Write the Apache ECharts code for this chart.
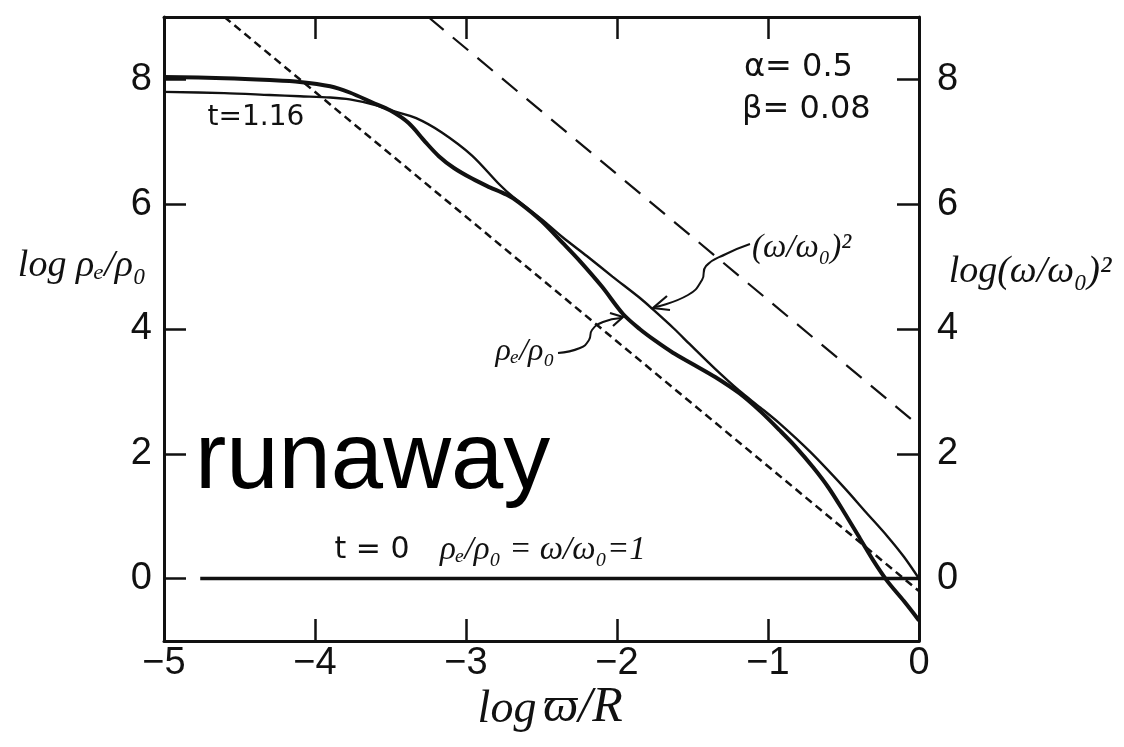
<!DOCTYPE html>
<html>
<head>
<meta charset="utf-8">
<script src="https://cdn.jsdelivr.net/npm/echarts@6/dist/echarts.min.js"></script>
<style>
  html, body { margin: 0; padding: 0; background: #fff; }
  #chart { width: 1124px; height: 747px; }
</style>
</head>
<body>
<div id="chart"></div>
<script>
// Axis ticks
const xTicks = [-5, -4, -3, -2, -1, 0];
const yTicks = [0, 2, 4, 6, 8];

// log(rho_e/rho_0) at t = 1.16 versus log(varpi/R)
const rhoE = [
  [-5.0, 8.04], [-4.6, 8.02], [-4.3, 7.99], [-4.1, 7.96], [-3.9, 7.89], [-3.77, 7.79],
  [-3.62, 7.63], [-3.5, 7.50], [-3.38, 7.30], [-3.27, 7.00], [-3.18, 6.77], [-3.08, 6.58],
  [-2.96, 6.41], [-2.86, 6.29], [-2.73, 6.15], [-2.65, 6.03], [-2.5, 5.73], [-2.36, 5.38],
  [-2.25, 5.10], [-2.1, 4.68], [-1.96, 4.24], [-1.85, 4.00], [-1.74, 3.80], [-1.63, 3.62],
  [-1.5, 3.44], [-1.35, 3.23], [-1.19, 2.97], [-1.05, 2.68], [-0.92, 2.37], [-0.82, 2.12],
  [-0.7, 1.78], [-0.6, 1.46], [-0.5, 1.08], [-0.39, 0.64], [-0.3, 0.28], [-0.21, -0.04],
  [-0.1, -0.36], [0, -0.67]
];

// log(omega/omega_0)^2 at t = 1.16
const omegaSq = [
  [-5.0, 7.80], [-4.6, 7.78], [-4.3, 7.75], [-4.1, 7.73], [-3.9, 7.71], [-3.77, 7.68],
  [-3.6, 7.59], [-3.49, 7.50], [-3.33, 7.38], [-3.16, 7.15], [-2.96, 6.78], [-2.78, 6.32],
  [-2.69, 6.12], [-2.5, 5.76], [-2.36, 5.47], [-2.2, 5.17], [-2.03, 4.84], [-1.85, 4.50],
  [-1.76, 4.31], [-1.62, 4.00], [-1.52, 3.76], [-1.35, 3.36], [-1.19, 3.01], [-1.05, 2.74],
  [-0.92, 2.48], [-0.72, 2.03], [-0.5, 1.47], [-0.35, 1.06], [-0.21, 0.68], [-0.1, 0.35],
  [0, 0.0]
];

// Initial state t = 0: rho_e/rho_0 = omega/omega_0 = 1
const initialState = [[-4.76, 0], [0, 0]];

// Reference slopes
const shortDashRef = [[-4.6, 9.0], [0, -0.2]];
const longDashRef = [[-3.25, 9.0], [0, 2.45]];

const sans = '"Liberation Sans", Arial, sans-serif';
const wide = '"DejaVu Sans", sans-serif';
const script = '"Liberation Serif", "DejaVu Serif", serif';
const ink = '#111';

const chart = echarts.init(document.getElementById('chart'), null, { renderer: 'canvas' });

const minus = v => (v < 0 ? '\u2212' + Math.abs(v) : String(v));

const baseAxisLine = { show: true, onZero: false, lineStyle: { color: ink, width: 3 } };
const baseTick = { show: true, inside: true, length: 22, lineStyle: { color: ink, width: 2.5 } };

function label(x, y, text, font, align) {
  return { type: 'text', x: x, y: y,
    style: { text: text, font: font, fill: ink, align: align || 'left', verticalAlign: 'middle' } };
}

chart.setOption({
  backgroundColor: '#fff',
  animation: false,
  grid: { left: 164, right: 205, top: 17, bottom: 106, containLabel: false },
  xAxis: [
    {
      type: 'value', position: 'bottom', min: -5, max: 0, interval: 1,
      axisLine: baseAxisLine, axisTick: baseTick, splitLine: { show: false },
      axisLabel: { color: ink, fontFamily: sans, fontSize: 38, margin: 4,
        showMinLabel: true, showMaxLabel: true, formatter: minus }
    },
    {
      type: 'value', position: 'top', min: -5, max: 0, interval: 1,
      axisLine: baseAxisLine, axisTick: baseTick, splitLine: { show: false },
      axisLabel: { show: false }
    }
  ],
  yAxis: [
    {
      type: 'value', position: 'left', min: -1, max: 9,
      axisLine: baseAxisLine,
      axisTick: Object.assign({}, baseTick, { customValues: yTicks }),
      splitLine: { show: false },
      axisLabel: { color: ink, fontFamily: sans, fontSize: 38, margin: 12, customValues: yTicks }
    },
    {
      type: 'value', position: 'right', min: -1, max: 9,
      axisLine: baseAxisLine,
      axisTick: Object.assign({}, baseTick, { customValues: yTicks }),
      splitLine: { show: false },
      axisLabel: { color: ink, fontFamily: sans, fontSize: 38, margin: 18, customValues: yTicks }
    }
  ],
  series: [
    {
      name: 'short dash', type: 'line', data: shortDashRef, showSymbol: false, silent: true,
      lineStyle: { color: ink, width: 2.5, type: [8, 5] }
    },
    {
      name: 'long dash', type: 'line', data: longDashRef, showSymbol: false, silent: true,
      lineStyle: { color: ink, width: 2.2, type: [20, 12] }
    },
    {
      name: 't=0', type: 'line', data: initialState, showSymbol: false, silent: true,
      lineStyle: { color: ink, width: 3.5 }
    },
    {
      name: 'omega', type: 'line', data: omegaSq, showSymbol: false, smooth: 0.3, silent: true,
      lineStyle: { color: ink, width: 2.4 }
    },
    {
      name: 'rho', type: 'line', data: rhoE, showSymbol: false, smooth: 0.3, silent: true,
      lineStyle: { color: ink, width: 4 }
    }
  ],
  graphic: [
    // parameters
    label(744, 68, '\u03B1= 0.5', '32px ' + wide),
    label(742, 110, '\u03B2= 0.08', '32px ' + wide),
    // curve labels
    label(256, 118, 't=1.16', '28px ' + wide, 'center'),
    label(752, 248, '(\u03C9/\u03C9\u2080)\u00B2', 'italic 33px ' + script),
    label(525, 352, '\u03C1\u2091/\u03C1\u2080', 'italic 32px ' + script, 'center'),
    label(372, 550, 't = 0', '30px ' + wide, 'center'),
    label(440, 550, '\u03C1\u2091/\u03C1\u2080 = \u03C9/\u03C9\u2080=1', 'italic 33px ' + script),
    // arrows
    { type: 'polyline', shape: { points: [[750, 244], [726, 254], [706, 266], [702, 280], [688, 295], [655, 307]], smooth: 0.5 },
      style: { stroke: ink, lineWidth: 2, fill: null } },
    { type: 'polyline', shape: { points: [[667, 296], [653, 308], [670, 310]] }, style: { stroke: ink, lineWidth: 2.2, fill: null } },
    { type: 'polyline', shape: { points: [[558, 353], [580, 348], [589, 340], [592, 330], [603, 322], [621, 318]], smooth: 0.5 },
      style: { stroke: ink, lineWidth: 2, fill: null } },
    { type: 'polyline', shape: { points: [[610, 313], [623, 317], [613, 326]] }, style: { stroke: ink, lineWidth: 2.2, fill: null } },
    // big label
    { type: 'text', x: 195, y: 462, style: { text: 'runaway', font: '94px ' + sans, fill: '#000', align: 'left', verticalAlign: 'middle' } },
    // axis titles
    label(82, 266, 'log \u03C1\u2091/\u03C1\u2080', 'italic 38px ' + script, 'center'),
    label(1030, 272, 'log(\u03C9/\u03C9\u2080)\u00B2', 'italic 38px ' + script, 'center'),
    label(507, 710, 'log', 'italic 46px ' + script, 'center'),
    label(543, 708, '\u03D6/R', 'italic 50px ' + script)
  ]
});
</script>
</body>
</html>
